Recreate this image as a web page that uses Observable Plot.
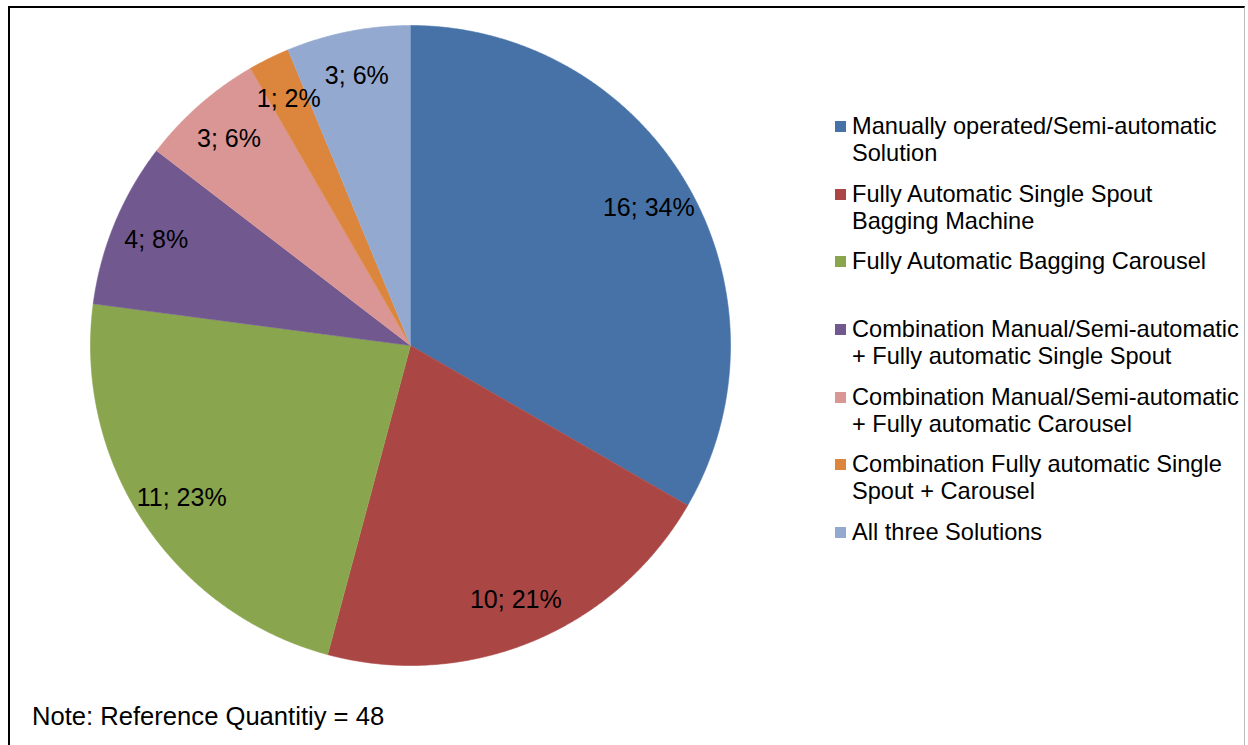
<!DOCTYPE html>
<html>
<head>
<meta charset="utf-8">
<script src="https://cdn.jsdelivr.net/npm/d3@7"></script>
<script src="https://cdn.jsdelivr.net/npm/@observablehq/plot@0.6"></script>
<style>
  html, body { margin: 0; padding: 0; background: #fff; }
  #page { position: relative; width: 1248px; height: 745px; overflow: hidden; font-family: "Liberation Sans", Arial, sans-serif; color: #000; }
  #frame { position: absolute; left: 8px; top: 6px; width: 1237px; height: 760px; border-left: 2px solid #000; border-top: 2px solid #000; border-right: 1px solid #bbb; box-sizing: border-box; }
  #chart { position: absolute; left: 0; top: 0; }
  #legend { position: absolute; left: 835px; top: 113px; }
  .entry { position: relative; height: 67.7px; }
  .swatch { position: absolute; left: 0; top: 8px; width: 11px; height: 11px; }
  .label { position: absolute; left: 17px; top: 0; font-size: 23.6px; line-height: 27px; white-space: nowrap; }
  #note { position: absolute; left: 32px; top: 701px; font-size: 25.6px; line-height: 30px; white-space: nowrap; }
</style>
</head>
<body>
<div id="page">
  <div id="frame"></div>
  <div id="chart"></div>
  <div id="legend"></div>
  <div id="note"></div>
</div>
<script>
const categories = [
  "Manually operated/Semi-automatic\nSolution",
  "Fully Automatic Single Spout\nBagging Machine",
  "Fully Automatic Bagging Carousel",
  "Combination Manual/Semi-automatic\n+ Fully automatic Single Spout",
  "Combination Manual/Semi-automatic\n+ Fully automatic Carousel",
  "Combination Fully automatic Single\nSpout + Carousel",
  "All three Solutions"
];
const counts = [16, 10, 11, 4, 3, 1, 3];
const percents = [34, 21, 23, 8, 6, 2, 6];
const colors = ["#4672A8", "#AA4644", "#89A54E", "#71598F", "#D99695", "#DB853D", "#94A9D0"];
const noteText = "Note: Reference Quantitiy = 48";

const arcs = d3.pie().sort(null).value(d => d)(counts);
const pts = [];
arcs.forEach((a, i) => {
  pts.push({k: categories[i], x: 0, y: 0});
  const n = Math.max(4, Math.ceil((a.endAngle - a.startAngle) / 0.005));
  for (let j = 0; j <= n; j++) {
    const t = a.startAngle + (a.endAngle - a.startAngle) * j / n;
    pts.push({k: categories[i], x: Math.sin(t), y: -Math.cos(t)});
  }
});
const labelR = 0.86;
const labels = arcs.map((a, i) => {
  const m = (a.startAngle + a.endAngle) / 2;
  return {x: labelR * Math.sin(m), y: -labelR * Math.cos(m), text: `${counts[i]}; ${percents[i]}%`};
});

const cx = 410, cy = 345, r = 320;
const chart = Plot.plot({
  width: 1248,
  height: 745,
  margin: 0,
  style: {background: "transparent", fontFamily: "'Liberation Sans', Arial, sans-serif"},
  x: {domain: [-1, 1], range: [cx - r, cx + r], axis: null},
  y: {domain: [-1, 1], range: [cy - r, cy + r], axis: null},
  color: {domain: categories, range: colors},
  marks: [
    Plot.line(pts, {x: "x", y: "y", z: "k", fill: "k", stroke: "k", strokeWidth: 0.6, curve: "linear"}),
    Plot.text(labels, {x: "x", y: "y", text: "text", fontSize: 25, fill: "#000"})
  ]
});
document.getElementById("chart").appendChild(chart);

const legend = document.getElementById("legend");
categories.forEach((c, i) => {
  const e = document.createElement("div");
  e.className = "entry";
  const s = document.createElement("div");
  s.className = "swatch";
  s.style.background = colors[i];
  const l = document.createElement("div");
  l.className = "label";
  l.innerHTML = c.split("\n").map(t => t.replace(/&/g, "&amp;")).join("<br>");
  e.appendChild(s); e.appendChild(l);
  legend.appendChild(e);
});
document.getElementById("note").textContent = noteText;
</script>
</body>
</html>
